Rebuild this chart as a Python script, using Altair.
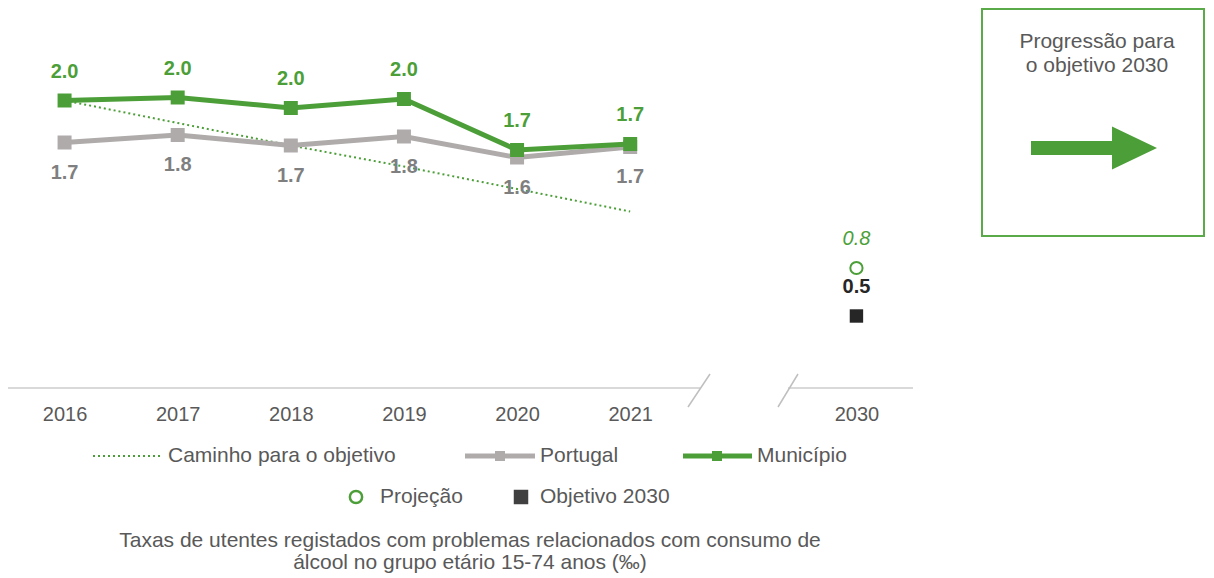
import altair as alt
import pandas as pd

# ---- data ----
anos = ["2016", "2017", "2018", "2019", "2020", "2021"]
municipio = [2.01, 2.03, 1.96, 2.02, 1.68, 1.72]
portugal = [1.73, 1.78, 1.71, 1.77, 1.63, 1.70]
caminho = [2.01, 1.86, 1.71, 1.57, 1.42, 1.27]
ano_alvo = "2030"
projecao = [0.8]
objetivo = [0.5]
lacuna = "·"
eixo_x = anos + [lacuna, ano_alvo]

legenda_1 = ["Caminho para o objetivo", "Portugal", "Município"]
legenda_2 = ["Projeção", "Objetivo 2030"]
legenda_nota = ["Taxas de utentes registados com problemas relacionados com consumo de",
                "álcool no grupo etário 15-74 anos (‰)"]
caixa_titulo = ["Progressão para", "o objetivo 2030"]

# ---- styles ----
FONT = "Liberation Sans"
GREEN = "#4C9F38"
GRAY_LINE = "#AFABAB"
GRAY_LABEL = "#7F7F7F"
TEXT = "#595959"
DARK = "#262626"

df_m = pd.DataFrame({"ano": anos, "valor": municipio})
df_p = pd.DataFrame({"ano": anos, "valor": portugal})
df_c = pd.DataFrame({"ano": anos, "valor": caminho})
df_proj = pd.DataFrame({"ano": [ano_alvo], "valor": projecao})
df_obj = pd.DataFrame({"ano": [ano_alvo], "valor": objetivo})
blank = pd.DataFrame({"k": [0]})

xs = alt.Scale(type="point", domain=eixo_x, padding=0.5)
ys = alt.Scale(domain=[0, 2.6], nice=False, zero=False)
ys2 = alt.Scale(domain=[-0.0375, 2.4], nice=False, zero=False)

X = alt.X(
    "ano:N", scale=xs, title=None,
    axis=alt.Axis(labelExpr=f"datum.value == '{lacuna}' ? '' : datum.value",
                  domain=False, ticks=False, grid=False, labelPadding=2,
                  labelFont=FONT, labelFontSize=20, labelColor=TEXT, labelAngle=0),
)
Y = alt.Y("valor:Q", scale=ys, axis=None)
Y2 = alt.Y("valor:Q", scale=ys2, axis=None)
T = alt.Text("valor:Q", format=".1f")

caminho_line = alt.Chart(df_c).mark_line(color=GREEN, strokeWidth=2, strokeDash=[2, 3]).encode(x=X, y=Y)
port_line = alt.Chart(df_p).mark_line(color=GRAY_LINE, strokeWidth=5).encode(x=X, y=Y)
port_pts = alt.Chart(df_p).mark_square(color=GRAY_LINE, size=196, opacity=1).encode(x=X, y=Y)
port_txt = alt.Chart(df_p).mark_text(dy=30, font=FONT, fontSize=20, fontWeight="bold", color=GRAY_LABEL).encode(x=X, y=Y, text=T)
mun_line = alt.Chart(df_m).mark_line(color=GREEN, strokeWidth=5).encode(x=X, y=Y)
mun_pts = alt.Chart(df_m).mark_square(color=GREEN, size=196, opacity=1).encode(x=X, y=Y)
mun_txt = alt.Chart(df_m).mark_text(dy=-29, font=FONT, fontSize=20, fontWeight="bold", color=GREEN).encode(x=X, y=Y, text=T)

proj_pt = alt.Chart(df_proj).mark_point(shape="circle", filled=False, color=GREEN, size=150, strokeWidth=2, opacity=1).encode(x=X, y=Y2)
proj_txt = alt.Chart(df_proj).mark_text(dy=-29, font=FONT, fontSize=20, fontStyle="italic", color=GREEN).encode(x=X, y=Y2, text=T)
obj_pt = alt.Chart(df_obj).mark_square(color=DARK, size=180, opacity=1).encode(x=X, y=Y2)
obj_txt = alt.Chart(df_obj).mark_text(dy=-29, font=FONT, fontSize=20, fontWeight="bold", color=DARK).encode(x=X, y=Y2, text=T)


def rule(x1, y1, x2, y2, **kw):
    return alt.Chart(blank).mark_rule(**kw).encode(
        x=alt.value(x1), y=alt.value(y1), x2=alt.value(x2), y2=alt.value(y2))


def label(x, y, text, align="left", color=TEXT, size=21, **kw):
    return alt.Chart(blank).mark_text(align=align, baseline="middle", font=FONT, fontSize=size,
                                      color=color, **kw).encode(
        x=alt.value(x), y=alt.value(y), text=alt.value(text))


def symbol(x, y, shape, size, **kw):
    return alt.Chart(blank).mark_point(shape=shape, size=size, opacity=1, **kw).encode(
        x=alt.value(x), y=alt.value(y))


# broken x axis line
axis_parts = [
    rule(0, 376, 692, 376, color="#D9D9D9", strokeWidth=2),
    rule(780, 376, 905, 376, color="#D9D9D9", strokeWidth=2),
    rule(702, 362, 680, 395, color="#BFBFBF", strokeWidth=1.5),
    rule(790, 362, 770, 395, color="#BFBFBF", strokeWidth=1.5),
]

# legend
L1, L2 = 444, 485
legend = [
    rule(85, L1, 152, L1, color=GREEN, strokeWidth=2, strokeDash=[2, 3]),
    label(160, L1, legenda_1[0]),
    rule(457, L1, 527, L1, color=GRAY_LINE, strokeWidth=5),
    symbol(492, L1, "square", 100, filled=True, color=GRAY_LINE),
    label(532, L1, legenda_1[1]),
    rule(675, L1, 744, L1, color=GREEN, strokeWidth=5),
    symbol(709, L1, "square", 100, filled=True, color=GREEN),
    label(749, L1, legenda_1[2]),
    symbol(348, L2, "circle", 150, filled=False, color=GREEN, strokeWidth=2.5),
    label(372, L2, legenda_2[0]),
    symbol(513, L2, "square", 210, filled=True, color="#404040"),
    label(532, L2, legenda_2[1]),
    label(462, 529, legenda_nota[0], align="center"),
    label(462, 551, legenda_nota[1], align="center"),
]

# progress box
ARROW = "M-1,-0.111L0.286,-0.111L0.286,-0.341L1,0L0.286,0.341L0.286,0.111L-1,0.111Z"
box = [
    alt.Chart(blank).mark_rect(fill="white", fillOpacity=0, stroke="#5AAA4A", strokeWidth=2).encode(
        x=alt.value(974), x2=alt.value(1196), y=alt.value(-3), y2=alt.value(224)),
    label(1089, 30, caixa_titulo[0], align="center"),
    label(1089, 54, caixa_titulo[1], align="center"),
    symbol(1086, 136, ARROW, 126 * 126, filled=True, color=GREEN, strokeWidth=0),
]

chart = alt.layer(
    caminho_line, *axis_parts,
    port_line, port_pts, mun_line, mun_pts,
    port_txt, mun_txt,
    proj_pt, obj_pt, proj_txt, obj_txt,
    *legend, *box,
).resolve_scale(y="independent").properties(
    width=905, height=390, background="white",
    autosize=alt.AutoSizeParams(type="none"),
    padding={"left": 0, "top": 4, "right": 293, "bottom": 173},
).configure_view(stroke=None)

chart.save("out.html", embed_options={"renderer": "svg", "actions": False})
